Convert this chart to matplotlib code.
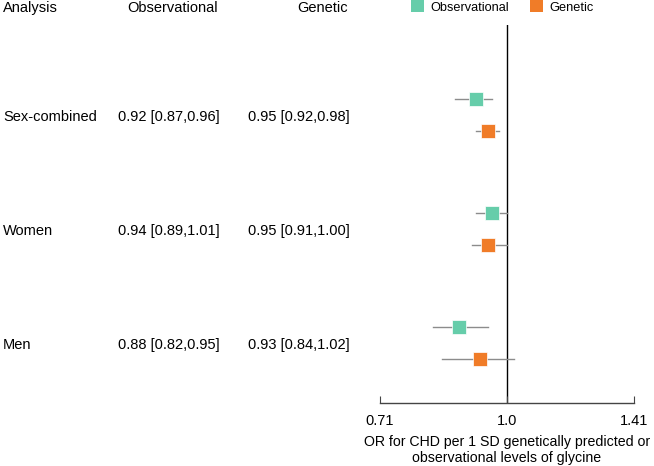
import matplotlib
matplotlib.use("Agg")
import matplotlib.pyplot as plt
from matplotlib.ticker import NullLocator

plt.rcParams["font.family"] = ["Liberation Sans", "DejaVu Sans"]

analyses = ["Sex-combined", "Women", "Men"]
# values printed in the table
obs_text = ["0.92 [0.87,0.96]", "0.94 [0.89,1.01]", "0.88 [0.82,0.95]"]
gen_text = ["0.95 [0.92,0.98]", "0.95 [0.91,1.00]", "0.93 [0.84,1.02]"]
obs_or = [0.92, 0.96, 0.88]
obs_lo = [0.87, 0.92, 0.82]
obs_hi = [0.96, 1.00, 0.95]
gen_or = [0.95, 0.95, 0.93]
gen_lo = [0.92, 0.91, 0.84]
gen_hi = [0.98, 1.00, 1.02]
x_ticks = [0.71, 1.0, 1.41]
x_tick_labels = ["0.71", "1.0", "1.41"]

OBS_COLOR = "#66CDAA"
GEN_COLOR = "#F07C28"
W, H = 654, 466


def fx(px):
    return px / W


def fy(py):
    return 1 - py / H


fig = plt.figure(figsize=(6.54, 4.66), dpi=100)
# forest panel: 0.71 at x=380px, 1.41 at x=634px, axis line at y=403px, top at 25px
ax = fig.add_axes([fx(380), fy(403), fx(634) - fx(380), fy(25) - fy(403)])
ax.set_xscale("log")
ax.set_xlim(0.71, 1.41)
# rows are 114px apart, first row at y=117px
ax.set_ylim((403 - 117) / 114, (25 - 117) / 114)

off = 0.14
for r in range(len(analyses)):
    yo = r - off - 0.02
    yg = r + off - 0.02
    ax.plot([obs_lo[r], obs_hi[r]], [yo, yo], color="#8c8c8c", lw=1, zorder=2)
    ax.plot(obs_or[r], yo, marker="s", ms=10.5, color=OBS_COLOR, mec="white", mew=0.5, zorder=3)
    ax.plot([gen_lo[r], gen_hi[r]], [yg, yg], color="#8c8c8c", lw=1, zorder=2)
    ax.plot(gen_or[r], yg, marker="s", ms=10.5, color=GEN_COLOR, mec="white", mew=0.5, zorder=3)

ax.axvline(1.0, color="black", lw=1, zorder=1)

for s in ["top", "right", "left"]:
    ax.spines[s].set_visible(False)
ax.spines["bottom"].set_color("#444444")
ax.spines["bottom"].set_linewidth(1)
ax.set_yticks([])
ax.set_xticks(x_ticks)
ax.set_xticklabels(x_tick_labels)
ax.xaxis.set_minor_locator(NullLocator())
ax.tick_params(axis="x", direction="in", length=5, color="#444444", labelsize=10.5, pad=8)
ax.set_xlabel("OR for CHD per 1 SD genetically predicted or\nobservational levels of glycine",
              fontsize=10.2, labelpad=5, linespacing=1.2)

# table headers
FS = 10.5
fig.text(fx(3), fy(8), "Analysis", fontsize=FS, va="center")
fig.text(fx(127), fy(8), "Observational", fontsize=FS, va="center")
fig.text(fx(297), fy(8), "Genetic", fontsize=FS, va="center")

# legend
fig.patches.append(plt.Rectangle((fx(411), fy(12)), fx(13), fy(0) - fy(12), transform=fig.transFigure,
                                 color=OBS_COLOR, lw=0))
fig.text(fx(430), fy(8), "Observational", fontsize=9.2, va="center")
fig.patches.append(plt.Rectangle((fx(530), fy(12)), fx(13), fy(0) - fy(12), transform=fig.transFigure,
                                 color=GEN_COLOR, lw=0))
fig.text(fx(549), fy(8), "Genetic", fontsize=9.2, va="center")

# table rows
for r, name in enumerate(analyses):
    y = fy(117 + 114 * r)
    fig.text(fx(3), y, name, fontsize=FS, va="center")
    fig.text(fx(118), y, obs_text[r], fontsize=FS, va="center")
    fig.text(fx(248), y, gen_text[r], fontsize=FS, va="center")

fig.savefig("out.png", dpi=100)
